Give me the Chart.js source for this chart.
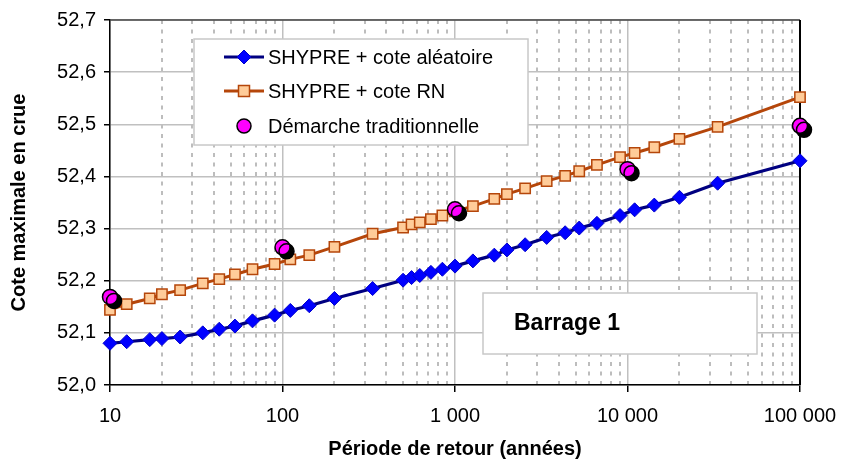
<!DOCTYPE html>
<html>
<head>
<meta charset="utf-8">
<script src="https://cdn.jsdelivr.net/npm/chart.js@4/dist/chart.umd.min.js"></script>
<style>
  html, body { margin: 0; padding: 0; background: #fff; }
  #wrap { width: 841px; height: 459px; }
</style>
</head>
<body>
<div id="wrap"><canvas id="chart" width="841" height="459"></canvas></div>
<script>
// return periods (years) shared by the two SHYPRE curves
const periods = [10, 12.5, 17, 20, 25.5, 34.5, 43, 53, 67, 90, 111, 143, 200, 333, 500, 560, 625, 725, 845,
  1000, 1270, 1690, 2000, 2550, 3400, 4350, 5250, 6650, 9050, 11000, 14300, 20000, 33300, 100000];
const shypreAleatoire = [52.080, 52.083, 52.087, 52.089, 52.092, 52.100, 52.107, 52.113, 52.123, 52.134, 52.143,
  52.152, 52.166, 52.185, 52.201, 52.206, 52.210, 52.216, 52.222, 52.228, 52.238, 52.249, 52.259, 52.269,
  52.283, 52.292, 52.301, 52.310, 52.325, 52.336, 52.345, 52.360, 52.387, 52.430];
const shypreRN = [52.144, 52.155, 52.166, 52.174, 52.182, 52.195, 52.203, 52.212, 52.222, 52.232, 52.241,
  52.249, 52.265, 52.290, 52.302, 52.308, 52.312, 52.318, 52.325, 52.333, 52.343, 52.357, 52.366, 52.377,
  52.391, 52.401, 52.410, 52.422, 52.437, 52.445, 52.456, 52.472, 52.495, 52.552];
// traditional approach
const tradPeriods = [10, 100, 1000, 10000, 100000];
const tradValues = [52.169, 52.264, 52.337, 52.414, 52.497];

const seriesNames = ['SHYPRE + cote aléatoire', 'SHYPRE + cote RN', 'Démarche traditionnelle'];
const xMajorTicks = [10, 100, 1000, 10000, 100000];
const xMajorLabels = ['10', '100', '1 000', '10 000', '100 000'];
const yMin = 52.0, yMax = 52.7, yStep = 0.1;
const xTitle = 'Période de retour (années)';
const yTitle = 'Cote maximale en crue';
const boxText = 'Barrage 1';

const FONT = "'Liberation Sans', Arial, sans-serif";
Chart.defaults.font.family = FONT;
Chart.defaults.color = '#000';

const BLUE_LINE = '#000080', BLUE_PT = '#0000ff';
const ORANGE_LINE = '#b5460a', ORANGE_PT = '#ffcc99';
const MAGENTA = '#ff00ff';

// all log ticks 10..100000 (majors + 2..9 minors)
const xTicks = [];
for (let i = 0; i < xMajorTicks.length - 1; i++) {
  for (let m = 1; m <= 9; m++) xTicks.push(xMajorTicks[i] * m);
}
xTicks.push(xMajorTicks[xMajorTicks.length - 1]);
const isMajor = v => xMajorTicks.indexOf(v) >= 0;

function pts(xs, ys) {
  return xs.map((x, i) => ({ x: x, y: ys[i] }));
}

// hard black shadow under the magenta dots
const shadowPlugin = {
  id: 'shadow',
  beforeDatasetDraw(chart, args) {
    if (args.index !== 2) return;
    const c = chart.ctx;
    c.save();
    c.shadowColor = '#000';
    c.shadowOffsetX = 4;
    c.shadowOffsetY = 4;
    c.shadowBlur = 0;
  },
  afterDatasetDraw(chart, args) {
    if (args.index === 2) chart.ctx.restore();
  }
};

// top + right frame of the plot area
const framePlugin = {
  id: 'frame',
  beforeDatasetsDraw(chart) {
    const c = chart.ctx, a = chart.chartArea;
    c.save();
    c.lineWidth = 1.5;
    c.strokeStyle = '#444';
    c.beginPath(); c.moveTo(a.left, a.top); c.lineTo(a.right, a.top); c.stroke();
    c.lineWidth = 2;
    c.strokeStyle = '#000';
    c.beginPath(); c.moveTo(a.right, a.top); c.lineTo(a.right, a.bottom); c.stroke();
    c.restore();
  }
};

function marker(c, style, x, y) {
  c.beginPath();
  if (style === 'diamond') {
    c.moveTo(x - 7, y); c.lineTo(x, y - 7); c.lineTo(x + 7, y); c.lineTo(x, y + 7); c.closePath();
    c.fillStyle = BLUE_PT; c.fill(); c.lineWidth = 1; c.strokeStyle = '#0000cc'; c.stroke();
  } else if (style === 'square') {
    c.rect(x - 5.5, y - 5.5, 11, 11);
    c.fillStyle = ORANGE_PT; c.fill(); c.lineWidth = 1.5; c.strokeStyle = ORANGE_LINE; c.stroke();
  } else {
    c.arc(x, y, 7, 0, Math.PI * 2);
    c.fillStyle = MAGENTA; c.fill(); c.lineWidth = 1.5; c.strokeStyle = '#000'; c.stroke();
  }
}

// legend box and "Barrage 1" label box
const boxesPlugin = {
  id: 'boxes',
  afterDatasetsDraw(chart) {
    const c = chart.ctx;
    c.save();
    // legend
    c.fillStyle = '#fff';
    c.fillRect(194, 39, 334, 106);
    c.strokeStyle = '#c8c8c8';
    c.lineWidth = 1.5;
    c.strokeRect(194, 39, 334, 106);
    const rows = [
      { y: 57, line: BLUE_LINE, mk: 'diamond' },
      { y: 91, line: ORANGE_LINE, mk: 'square' },
      { y: 126, line: null, mk: 'circle' }
    ];
    c.font = '20px ' + FONT;
    c.textBaseline = 'middle';
    c.textAlign = 'left';
    rows.forEach((r, i) => {
      if (r.line) {
        c.beginPath(); c.moveTo(224, r.y); c.lineTo(264, r.y);
        c.strokeStyle = r.line; c.lineWidth = 3; c.stroke();
      }
      marker(c, r.mk, 244, r.y);
      c.fillStyle = '#000';
      c.fillText(seriesNames[i], 268, r.y + 1);
    });
    // Barrage box
    c.fillStyle = '#fff';
    c.fillRect(483, 293, 274, 61);
    c.strokeStyle = '#c8c8c8';
    c.lineWidth = 1.5;
    c.strokeRect(483, 293, 274, 61);
    c.fillStyle = '#000';
    c.font = 'bold 23px ' + FONT;
    c.fillText(boxText, 514, 324);
    c.restore();
  }
};

new Chart(document.getElementById('chart'), {
  type: 'line',
  data: {
    datasets: [
      {
        label: seriesNames[0],
        data: pts(periods, shypreAleatoire),
        borderColor: BLUE_LINE,
        borderWidth: 3.2,
        pointStyle: 'rectRot',
        pointRadius: 7,
        pointBackgroundColor: BLUE_PT,
        pointBorderColor: '#0000cc',
        pointBorderWidth: 1,
        tension: 0,
        clip: false,
        order: 2
      },
      {
        label: seriesNames[1],
        data: pts(periods, shypreRN),
        borderColor: ORANGE_LINE,
        borderWidth: 3,
        pointStyle: 'rect',
        pointRadius: 7.3,
        pointBackgroundColor: ORANGE_PT,
        pointBorderColor: ORANGE_LINE,
        pointBorderWidth: 1.5,
        tension: 0,
        clip: false,
        order: 1
      },
      {
        label: seriesNames[2],
        data: pts(tradPeriods, tradValues),
        showLine: false,
        pointStyle: 'circle',
        pointRadius: 7.5,
        pointBackgroundColor: MAGENTA,
        pointBorderColor: '#000',
        pointBorderWidth: 1.5,
        clip: false,
        order: 0
      }
    ]
  },
  options: {
    responsive: false,
    animation: false,
    devicePixelRatio: 1,
    layout: { padding: { left: 0, right: 41, top: 20, bottom: 0 } },
    plugins: { legend: { display: false }, tooltip: { enabled: false } },
    scales: {
      x: {
        type: 'logarithmic',
        min: 10,
        max: 100000,
        afterBuildTicks: s => { s.ticks = xTicks.map(v => ({ value: v, major: isMajor(v) })); },
        afterFit: s => { s.height = 74; s.paddingLeft = 0; s.paddingRight = 0; },
        ticks: {
          autoSkip: false,
          maxRotation: 0,
          padding: 12,
          font: { size: 20 },
          color: '#000',
          callback: v => isMajor(v) ? xMajorLabels[xMajorTicks.indexOf(v)] : ''
        },
        grid: {
          color: c => (c.tick && isMajor(c.tick.value)) ? '#c0c0c0' : '#bdbdbd',
          lineWidth: c => (c.tick && isMajor(c.tick.value)) ? 1.5 : 2,
          tickLength: 7,
          tickWidth: 1.5,
          tickColor: c => (c.tick && isMajor(c.tick.value)) ? '#000' : 'rgba(0,0,0,0)'
        },
        border: {
          display: true,
          color: '#000',
          width: 1.5,
          dash: c => (c.tick && !isMajor(c.tick.value)) ? [4, 5.5] : []
        },
        title: {
          display: true,
          text: xTitle,
          font: { size: 20, weight: 'bold', lineHeight: 1 },
          padding: { top: 0, bottom: 0 },
          color: '#000'
        }
      },
      y: {
        min: yMin,
        max: yMax,
        afterFit: s => { s.width = 110; s.paddingTop = 0; s.paddingBottom = 0; },
        ticks: {
          stepSize: yStep,
          padding: 8,
          font: { size: 20 },
          color: '#000',
          callback: v => v.toFixed(1).replace('.', ',')
        },
        grid: {
          color: '#c0c0c0',
          lineWidth: 1.5,
          tickLength: 6,
          tickWidth: 1.5,
          tickColor: '#000'
        },
        border: { display: true, color: '#000', width: 1.5 },
        title: {
          display: true,
          text: yTitle,
          font: { size: 20, weight: 'bold', lineHeight: 1 },
          padding: { top: 9, bottom: 0 },
          color: '#000'
        }
      }
    }
  },
  plugins: [shadowPlugin, framePlugin, boxesPlugin]
});
</script>
</body>
</html>
